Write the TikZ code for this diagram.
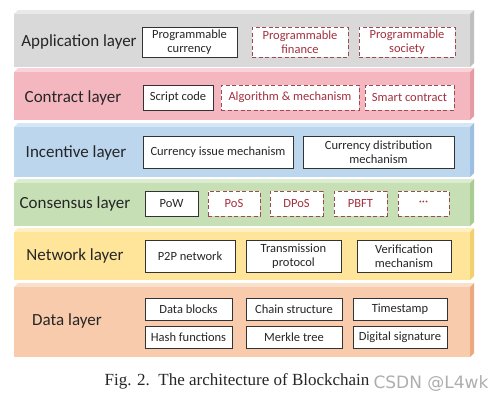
\documentclass[tikz,border=0pt]{standalone}
\usepackage{fontspec}
\setmainfont{Carlito}
\newfontfamily\capfont{Liberation Serif}
\newfontfamily\wmfont{DejaVu Sans}
\definecolor{gfront}{HTML}{D9D9D9}\definecolor{gtop}{HTML}{E9E9E9}\definecolor{gside}{HTML}{BFBFBF}
\definecolor{pfront}{HTML}{F5B7BF}\definecolor{ptop}{HTML}{F9D3D8}\definecolor{pside}{HTML}{E59AA4}
\definecolor{bfront}{HTML}{BCD6EE}\definecolor{btop}{HTML}{D6E6F5}\definecolor{bside}{HTML}{9DC0E2}
\definecolor{cfront}{HTML}{C6DFB5}\definecolor{ctop}{HTML}{DCECD0}\definecolor{cside}{HTML}{A9CC92}
\definecolor{yfront}{HTML}{FFE59A}\definecolor{ytop}{HTML}{FFF0C4}\definecolor{yside}{HTML}{F2D070}
\definecolor{dfront}{HTML}{F7CBAC}\definecolor{dtop}{HTML}{FADFCB}\definecolor{dside}{HTML}{EBAA7E}
\definecolor{dashred}{HTML}{9E4A55}
\definecolor{dashtext}{HTML}{A3303E}
\definecolor{txt}{HTML}{262626}
\newcommand{\myslab}[5]{%
  \fill[#4] (14,#1) -- (18,#1-4) -- (474,#1-4) -- (470,#1) -- cycle;
  \fill[#5] (470,#1) -- (474,#1-4) -- (474,#2-4) -- (470,#2) -- cycle;
  \fill[#3] (14,#1) rectangle (470,#2);}
\begin{document}
\begin{tikzpicture}[x=1pt,y=-1pt,
  solidbox/.style={draw=black!80,fill=white,line width=0.9pt,inner sep=0pt,align=center,font=\fontsize{12.5}{14.5}\selectfont,text=txt},
  dashbox/.style={draw=dashred,dashed,dash pattern=on 4pt off 2.5pt,fill=white,line width=0.9pt,inner sep=0pt,align=center,font=\fontsize{12.5}{14.5}\selectfont,text=dashtext},
  layerlabel/.style={font=\fontsize{17}{19}\selectfont,text=txt,inner sep=0pt}]
\useasboundingbox (0,0) rectangle (501,405);
\fill[white] (0,0) rectangle (501,405);
\myslab{14}{67}{gfront}{gtop}{gside}
\myslab{72}{120}{pfront}{ptop}{pside}
\myslab{127}{177}{bfront}{btop}{bside}
\myslab{183}{226}{cfront}{ctop}{cside}
\myslab{232}{280}{yfront}{ytop}{yside}
\myslab{287}{357}{dfront}{dtop}{dside}
% labels
\node[layerlabel] (lapp) at (79,42) {Application layer};
\node[layerlabel] (lcon) at (73,98) {Contract layer};
\node[layerlabel] (linc) at (76,153) {Incentive layer};
\node[layerlabel] (lcns) at (75,204) {Consensus layer};
\node[layerlabel] (lnet) at (75,256) {Network layer};
\node[layerlabel] (ldat) at (67,321) {Data layer};
% application
\node[solidbox,minimum width=95pt,minimum height=30pt] (a1) at (189.5,42) {Programmable\\currency};
\node[dashbox,minimum width=96pt,minimum height=30pt] (a2) at (300,42) {Programmable\\finance};
\node[dashbox,minimum width=96pt,minimum height=30pt] (a3) at (407,42) {Programmable\\society};
% contract
\node[solidbox,minimum width=70pt,minimum height=25pt] (c1) at (178,97.5) {Script code};
\node[dashbox,minimum width=138pt,minimum height=25pt] (c2) at (290,97.5) {Algorithm \& mechanism};
\node[dashbox,minimum width=89pt,minimum height=25pt] (c3) at (409.5,97.5) {Smart contract};
% incentive
\node[solidbox,minimum width=150pt,minimum height=32pt] (i1) at (218,152) {Currency issue mechanism};
\node[solidbox,minimum width=151pt,minimum height=32pt] (i2) at (378.5,152) {Currency distribution\\mechanism};
% consensus
\node[solidbox,minimum width=53pt,minimum height=25pt] (s1) at (171.5,203.5) {PoW};
\node[dashbox,minimum width=52pt,minimum height=25pt] (s2) at (234,203.5) {PoS};
\node[dashbox,minimum width=53pt,minimum height=25pt] (s3) at (296.5,203.5) {DPoS};
\node[dashbox,minimum width=53pt,minimum height=25pt] (s4) at (360.5,203.5) {PBFT};
\node[dashbox,minimum width=51pt,minimum height=25pt] (s5) at (423.5,203.5) {···};
% network
\node[solidbox,minimum width=90pt,minimum height=32pt] (n1) at (190,256) {P2P network};
\node[solidbox,minimum width=95pt,minimum height=32pt] (n2) at (293.5,256) {Transmission\\protocol};
\node[solidbox,minimum width=94pt,minimum height=32pt] (n3) at (404,256) {Verification\\mechanism};
% data
\node[solidbox,minimum width=87pt,minimum height=22pt] (d1) at (188.5,309) {Data blocks};
\node[solidbox,minimum width=96pt,minimum height=22pt] (d2) at (294,309) {Chain structure};
\node[solidbox,minimum width=94pt,minimum height=22pt] (d3) at (400,309) {Timestamp};
\node[solidbox,minimum width=87pt,minimum height=22pt] (d4) at (188.5,337) {Hash functions};
\node[solidbox,minimum width=96pt,minimum height=22pt] (d5) at (294,337) {Merkle tree};
\node[solidbox,minimum width=94pt,minimum height=22pt] (d6) at (400,337) {Digital signature};
% caption
\node[font=\capfont\fontsize{17}{19}\selectfont,text=txt,inner sep=0pt] (cap) at (237,381) {Fig. 2.\enspace The architecture of Blockchain};
\node[font=\wmfont\fontsize{17}{19}\selectfont,text=black!35,opacity=0.9,inner sep=0pt] (wm) at (431,384) {CSDN @L4wk};
\end{tikzpicture}
\end{document}
